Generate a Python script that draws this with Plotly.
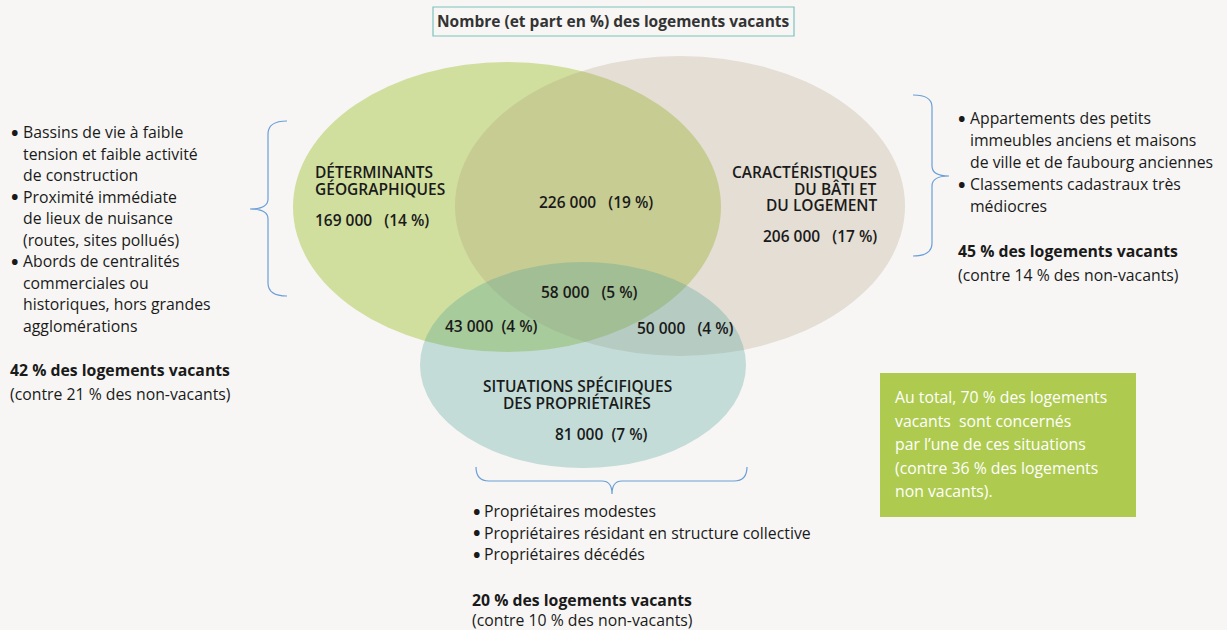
import plotly.graph_objects as go

# ---------------- data ----------------
title = "Nombre (et part en %) des logements vacants"
set_names = ["DÉTERMINANTS<br>GÉOGRAPHIQUES", "CARACTÉRISTIQUES<br>DU BÂTI ET<br>DU LOGEMENT",
             "SITUATIONS SPÉCIFIQUES<br>DES PROPRIÉTAIRES"]
region_keys = ["geo", "geo_bati", "bati", "triple", "geo_prop", "bati_prop", "prop"]
region_counts = [169000, 226000, 206000, 58000, 43000, 50000, 81000]
region_shares = [14, 19, 17, 5, 4, 4, 7]

left_items = ["Bassins de vie à faible", "tension et faible activité", "de construction",
              "Proximité immédiate", "de lieux de nuisance", "(routes, sites pollués)",
              "Abords de centralités", "commerciales ou", "historiques, hors grandes",
              "agglomérations"]
left_bullets = [True, False, False, True, False, False, True, False, False, False]
right_items = ["Appartements des petits", "immeubles anciens et maisons",
               "de ville et de faubourg anciennes", "Classements cadastraux très", "médiocres"]
right_bullets = [True, False, False, True, False]
bottom_items = ["Propriétaires modestes", "Propriétaires résidant en structure collective",
                "Propriétaires décédés"]
set_share_vacant = [42, 45, 20]
set_share_nonvacant = [21, 14, 10]
total_lines = ["Au total, 70 % des logements", "vacants  sont concernés",
               "par l’une de ces situations", "(contre 36 % des logements",
               "non vacants)."]

# ---------------- helpers ----------------
FONT = "Open Sans"
TXT = "#1a1a1a"
BG = "#f7f6f4"

def fmt(n):
    return f"{n:,}".replace(",", " ")

ann = []
def text(x, y, s, size=16, weight=400, color=TXT, xanchor="left"):
    ann.append(dict(x=x, y=y, xref="x", yref="y", text=s, showarrow=False,
                    xanchor=xanchor, yanchor="middle", borderpad=0,
                    font=dict(family=FONT, size=size, color=color, weight=weight)))

shapes = []
def ellipse(cx, cy, rx, ry, color, opacity):
    shapes.append(dict(type="circle", xref="x", yref="y", x0=cx - rx, x1=cx + rx,
                       y0=cy - ry, y1=cy + ry, fillcolor=color, opacity=opacity,
                       line=dict(width=0), layer="below"))

# ellipses
ellipse(507, 207, 214, 145, "rgb(169,198,72)", 0.5)
ellipse(680, 206, 225, 150, "rgb(171,150,116)", 0.25)
ellipse(583, 365, 163, 103, "rgb(77,159,151)", 0.3)

# title box
shapes.append(dict(type="rect", xref="x", yref="y", x0=433, x1=794, y0=7, y1=36,
                   line=dict(color="#7fc1bd", width=1.2), fillcolor=BG, layer="below"))
text(613.5, 21, title, size=15.5, weight=700, color="#333333", xanchor="center")

# braces
BRACE = dict(color="#6a9fd8", width=1.2)
shapes.append(dict(type="path", xref="x", yref="y", line=BRACE,
                   path="M 287 121 Q 268 121 268 134 L 268 199 Q 268 209 250 209 "
                        "Q 268 209 268 219 L 268 283 Q 268 296 287 296"))
shapes.append(dict(type="path", xref="x", yref="y", line=BRACE,
                   path="M 913 95 Q 932 95 932 107 L 932 166 Q 932 176 949 176 "
                        "Q 932 176 932 186 L 932 243 Q 932 256 913 256"))
shapes.append(dict(type="path", xref="x", yref="y", line=BRACE,
                   path="M 476 467 Q 476 481 489 481 L 602 481 Q 612 481 612 494 "
                        "Q 612 481 622 481 L 734 481 Q 747 481 747 467"))

# green total box
shapes.append(dict(type="rect", xref="x", yref="y", x0=880, x1=1136, y0=373, y1=517,
                   fillcolor="#aecb4f", line=dict(width=0), layer="below"))

# venn labels
B = 600
VS = 15.5
names = [s.split("<br>") for s in set_names]
for i, s in enumerate(names[0]):
    text(314, 172 + 16.5 * i, s, size=VS, weight=B)
for i, s in enumerate(names[1]):
    text(878, 172 + 16.5 * i, s, size=VS, weight=B, xanchor="right")
for i, s in enumerate(names[2]):
    text(577, 386 + 17 * i, s, size=VS, weight=B, xanchor="center")

lab = {k: f"{fmt(c)}   ({p} %)" for k, c, p in zip(region_keys, region_counts, region_shares)}
text(314, 220, lab["geo"], size=VS, weight=B)
text(596, 202, lab["geo_bati"], size=VS, weight=B, xanchor="center")
text(878, 236, lab["bati"], size=VS, weight=B, xanchor="right")
text(589, 292, lab["triple"], size=VS, weight=B, xanchor="center")
text(491, 326, lab["geo_prop"].replace("   ", "  "), size=VS, weight=B, xanchor="center")
text(685, 328, lab["bati_prop"], size=VS, weight=B, xanchor="center")
text(601, 434, lab["prop"].replace("   ", "  "), size=VS, weight=B, xanchor="center")

# side lists
def bullet_list(xb, xt, y0, dy, items, bullets):
    for i, (s, b) in enumerate(zip(items, bullets)):
        y = y0 + dy * i
        if b:
            text(xb, y, "•", size=20, weight=700, xanchor="center")
        text(xt, y, s, size=15.8)

bullet_list(15, 22, 132, 21.5, left_items, left_bullets)
bullet_list(962, 969, 118, 22, right_items, right_bullets)
bullet_list(477, 483, 511, 21.5, bottom_items, [True] * len(bottom_items))

summary_pos = [(9, 370, 394), (957, 251, 275), (471, 600, 620)]
for (x, y1, y2), v, nv in zip(summary_pos, set_share_vacant, set_share_nonvacant):
    text(x, y1, f"{v} % des logements vacants", size=15.8, weight=700)
    text(x, y2, f"(contre {nv} % des non-vacants)", size=15.8)

for i, s in enumerate(total_lines):
    text(894, 397 + 23.5 * i, s, size=15.8, color="white")

fig = go.Figure()
fig.update_layout(
    width=1227, height=630, margin=dict(l=0, r=0, t=0, b=0),
    paper_bgcolor=BG, plot_bgcolor=BG, showlegend=False,
    xaxis=dict(range=[0, 1227], visible=False, fixedrange=True),
    yaxis=dict(range=[630, 0], visible=False, fixedrange=True),
    shapes=shapes, annotations=ann,
)
fig.write_html("out.html", config={"displayModeBar": False, "staticPlot": True},
               post_script="document.body.style.margin='0';document.body.style.padding='0';"
                           "document.body.style.overflow='hidden';")
